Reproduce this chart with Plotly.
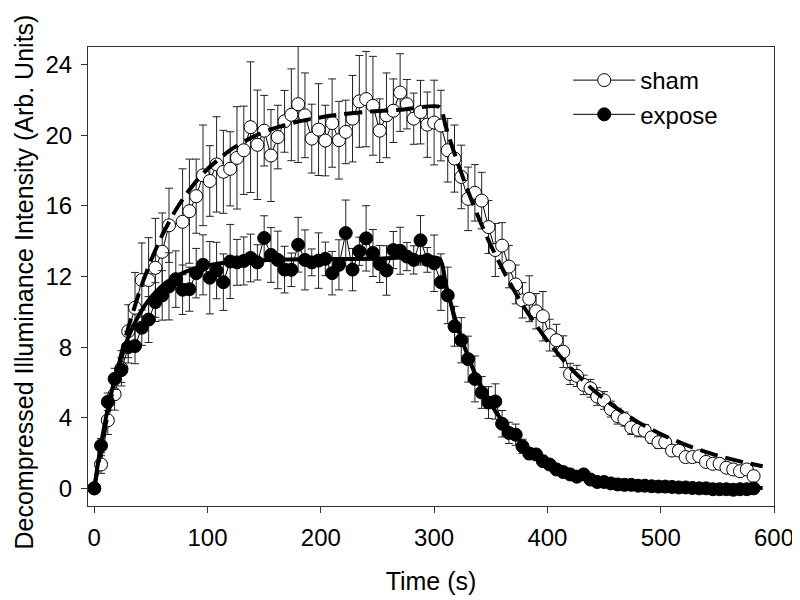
import plotly.graph_objects as go

# ---------------- data ----------------
time_s = [0, 6, 12, 18, 24, 30, 36, 42, 48, 54, 60, 66, 72, 78, 84, 90, 96, 102, 108, 114,
          120, 126, 132, 138, 144, 150, 156, 162, 168, 174, 180, 186, 192, 198, 204, 210, 216, 222, 228, 234,
          240, 246, 252, 258, 264, 270, 276, 282, 288, 294, 300, 306, 312, 318, 324, 330, 336, 342, 348, 354,
          360, 366, 372, 378, 384, 390, 396, 402, 408, 414, 420, 426, 432, 438, 444, 450, 456, 462, 468, 474,
          480, 486, 492, 498, 504, 510, 516, 522, 528, 534, 540, 546, 552, 558, 564, 570, 576, 582]

sham = [0.0, 1.35, 3.85, 5.33, 6.8, 8.9, 10.23, 11.8, 11.8, 12.49,
        13.4, 14.9, None, 15.1, 15.7, 16.55, 17.73, 17.41, 18.35, 17.93,
        18.1, 18.72, 19.15, 20.46, 19.46, 20.26, 18.85, 19.9, 20.79, 21.16,
        21.76, 21.13, 19.81, 20.32, 19.7, 20.69, 19.72, 20.19, 20.94, 21.92,
        22.05, 21.67, 20.26, 21.13, 21.39, 22.42, 21.76, 20.94, 21.31, 20.6,
        20.72, 20.55, 19.15, 18.68, 17.64, 16.4, 16.74, 16.3, 14.8, 13.5,
        13.75, 12.56, 11.55, 10.65, 10.74, 10.03, 9.75, 8.68, 8.39, 7.74,
        6.48, 6.37, 5.86, 5.67, 5.2, 4.98, 4.49, 4.09, 3.92, 3.45,
        3.32, 3.27, 2.89, 2.61, 2.61, 2.14, 2.14, 1.77, 1.77, 1.82,
        1.5, 1.39, 1.39, 1.17, 1.07, 0.97, 1.07, 0.69]

sham_err = [0.0, 0.5, 0.8, 0.9, 1.0, 1.5, 2.0, 2.1, 2.4, 2.8,
            2.2, 2.1, 0.0, 3.0, 2.95, 2.1, 2.85, 2.0, 2.7, 2.35,
            2.1, 2.9, 2.5, 3.7, 3.1, 2.0, 2.6, 1.8, 1.75, 2.6,
            3.3, 2.4, 1.95, 2.6, 2.0, 2.5, 2.2, 1.8, 2.45, 2.6,
            2.7, 2.8, 1.8, 2.4, 1.8, 2.2, 1.4, 1.45, 1.8, 1.85,
            2.4, 2.0, 1.8, 1.9, 1.8, 1.8, 1.6, 1.6, 1.5, 1.5,
            1.3, 1.2, 1.1, 1.0, 1.3, 1.0, 1.4, 0.9, 0.9, 0.9,
            0.6, 0.6, 0.55, 0.5, 0.5, 0.5, 0.45, 0.45, 0.4, 0.4,
            0.4, 0.35, 0.35, 0.35, 0.3, 0.3, 0.3, 0.3, 0.3, 0.25,
            0.25, 0.25, 0.25, 0.25, 0.2, 0.2, 0.2, 0.2]

expose = [0.0, 2.42, 4.9, 6.2, 6.7, 8.0, 8.06, 9.1, 9.56, 10.55,
          10.93, 11.44, 11.85, 11.25, 11.28, 12.19, 12.66, 11.93, 12.34, 11.68,
          12.85, 12.8, 12.88, 13.05, 12.8, 14.18, 13.22, 12.94, 12.39, 12.38,
          13.8, 12.94, 12.8, 12.9, 13.0, 12.19, 12.66, 14.46, 12.39, 13.43,
          14.16, 13.33, 12.71, 12.34, 13.5, 13.46, 13.13, 12.94, 14.05, 12.94,
          12.75, 11.68, 10.93, 9.18, 8.39, 7.32, 6.2, 5.43, 4.86, 4.92,
          3.66, 3.14, 3.04, 2.38, 1.97, 1.92, 1.54, 1.35, 1.07, 0.92,
          0.79, 0.66, 0.79, 0.5, 0.36, 0.36, 0.28, 0.22, 0.2, 0.2,
          0.15, 0.15, 0.12, 0.1, 0.1, 0.08, 0.05, 0.05, 0.02, 0.0,
          0.0, -0.05, -0.05, -0.05, -0.08, -0.05, -0.05, 0.0]

expose_err = [0.0, 0.4, 0.5, 0.6, 0.7, 0.9, 1.0, 1.0, 1.3, 1.1,
              1.4, 1.9, 1.6, 1.4, 1.25, 1.4, 1.7, 2.05, 1.6, 1.6,
              2.1, 1.3, 1.36, 1.35, 1.0, 1.26, 1.55, 1.63, 1.32, 0.95,
              1.55, 1.7, 0.76, 1.57, 0.95, 1.23, 1.42, 1.87, 1.2, 0.8,
              1.85, 1.33, 1.05, 1.4, 1.05, 1.33, 0.8, 0.8, 1.4, 0.7,
              1.6, 1.6, 1.6, 1.13, 1.28, 1.3, 1.3, 0.9, 0.9, 1.0,
              0.75, 0.6, 0.6, 0.4, 0.3, 0.3, 0.3, 0.25, 0.2, 0.2,
              0.15, 0.1, 0.1, 0.1, 0.1, 0.1, 0.1, 0.1, 0.1, 0.1,
              0.1, 0.1, 0.1, 0.1, 0.1, 0.1, 0.1, 0.1, 0.1, 0.1,
              0.1, 0.1, 0.1, 0.1, 0.1, 0.1, 0.1, 0.1]

# fitted curves
sham_fit_t = [0, 5, 10, 15, 20, 25, 30, 40, 50, 60, 70, 80, 90, 100, 120, 140, 160, 180, 210, 240, 270, 305,
              310, 315, 320, 330, 340, 350, 365, 380, 400, 420, 440, 460, 480, 500, 525, 550, 575, 590]
sham_fit_y = [0.0, 1.88, 3.59, 5.16, 6.58, 7.89, 9.08, 11.16, 12.9, 14.34, 15.55, 16.56, 17.39, 18.09, 19.16,
              19.91, 20.42, 20.78, 21.12, 21.33, 21.44, 21.6,
              20.55, 19.54, 18.59, 16.82, 15.22, 13.77, 11.85, 10.2, 8.35, 6.84, 5.6, 4.58, 3.75, 3.07,
              2.39, 1.86, 1.45, 1.25]

expose_fit_t = [0, 5, 10, 15, 20, 25, 30, 40, 50, 60, 70, 80, 90, 100, 120, 140, 170, 210, 250, 305,
                310, 315, 320, 325, 330, 340, 350, 360, 375, 390, 410, 430, 460, 500, 550, 590]
expose_fit_y = [0.0, 2.13, 3.9, 5.39, 6.64, 7.68, 8.55, 9.88, 10.82, 11.47, 11.93, 12.25, 12.48, 12.63, 12.82,
                12.91, 12.97, 12.99, 13.0, 13.0,
                11.63, 10.41, 9.31, 8.34, 7.46, 5.97, 4.78, 3.83, 2.74, 1.97, 1.26, 0.81, 0.41, 0.17, 0.06, 0.02]

x_ticks = [0, 100, 200, 300, 400, 500, 600]
y_ticks = [0, 4, 8, 12, 16, 20, 24]
y_title = "Decompressed Illuminance Intensity (Arb. Units)"

# ---------------- figure ----------------
FONT = "Arial, Liberation Sans, Helvetica, sans-serif"
err_style = dict(type="data", symmetric=True, color="#222222", thickness=1, width=4)

fig = go.Figure()

fig.add_trace(go.Scatter(
    x=time_s, y=sham, name="sham", mode="lines+markers", connectgaps=True,
    line=dict(color="black", width=1),
    marker=dict(symbol="circle", size=13, color="white", line=dict(color="black", width=1)),
    error_y=dict(array=sham_err, **err_style),
))
fig.add_trace(go.Scatter(
    x=time_s, y=expose, name="expose", mode="lines+markers",
    line=dict(color="black", width=1),
    marker=dict(symbol="circle", size=13, color="black", line=dict(color="black", width=1)),
    error_y=dict(array=expose_err, **err_style),
))
fig.add_trace(go.Scatter(
    x=sham_fit_t, y=sham_fit_y, mode="lines", showlegend=False, hoverinfo="skip",
    line=dict(color="black", width=4, dash="18px,8px", shape="spline", smoothing=0.6),
))
fig.add_trace(go.Scatter(
    x=expose_fit_t, y=expose_fit_y, mode="lines", showlegend=False, hoverinfo="skip",
    line=dict(color="black", width=4, shape="spline", smoothing=0.6),
))

axis_common = dict(
    showline=True, linecolor="#333333", linewidth=1, mirror=True,
    ticks="outside", ticklen=6, tickwidth=1, tickcolor="#333333",
    showgrid=False, zeroline=False, automargin=False,
    tickfont=dict(family=FONT, size=24, color="black"),
)

# the page body adds an 8px offset, so the figure is 8px smaller and margins compensate
fig.update_layout(
    width=792, height=592,
    margin=dict(l=80, r=26, t=39, b=94),
    paper_bgcolor="white", plot_bgcolor="white",
    font=dict(family=FONT, size=24, color="black"),
    showlegend=True,
    legend=dict(x=0.70, y=0.976, xanchor="left", yanchor="top",
                bgcolor="rgba(0,0,0,0)", borderwidth=0,
                font=dict(family=FONT, size=24, color="black"),
                tracegroupgap=0, itemwidth=62),
    xaxis=dict(range=[-5.5, 600], tickvals=x_ticks, ticklabelstandoff=4,
               title=dict(text="Time (s)", font=dict(family=FONT, size=25), standoff=22),
               **axis_common),
    yaxis=dict(range=[-1, 25], tickvals=y_ticks, ticklabelstandoff=4, **axis_common),
    annotations=[dict(text=y_title, xref="paper", yref="paper", x=-0.094, y=0.488,
                      xanchor="center", yanchor="middle", textangle=-90, showarrow=False,
                      font=dict(family=FONT, size=25, color="black"))],
)

fig.write_html("out.html")
